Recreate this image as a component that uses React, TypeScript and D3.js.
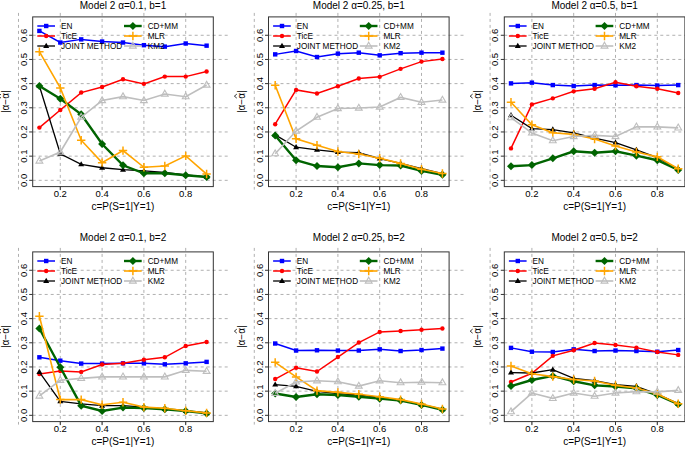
import React from "react";
import * as d3 from "d3";

// c = P(S=1|Y=1)
const cValues = [0.1, 0.2, 0.3, 0.4, 0.5, 0.6, 0.7, 0.8, 0.9];
const xTicks = [0.2, 0.4, 0.6, 0.8];
const xGrid = [0, 0.2, 0.4, 0.6, 0.8];
const yTicks = [0, 0.1, 0.2, 0.3, 0.4, 0.5, 0.6];
const methods = ["EN", "TicE", "JOINT METHOD", "CD+MM", "MLR", "KM2"];

// alpha = 0.1, b = 1
const en_a010_b1 = [0.618, 0.57, 0.583, 0.574, 0.57, 0.559, 0.553, 0.566, 0.557];
const tice_a010_b1 = [0.218, 0.291, 0.363, 0.386, 0.418, 0.399, 0.429, 0.429, 0.45];
const joint_a010_b1 = [0.39, 0.11, 0.066, 0.052, 0.044, 0.039, 0.033, 0.022, 0.014];
const cdmm_a010_b1 = [0.39, 0.337, 0.273, 0.15, 0.062, 0.029, 0.029, 0.021, 0.014];
const mlr_a010_b1 = [0.532, 0.382, 0.166, 0.073, 0.123, 0.054, 0.059, 0.101, 0.026];
const km2_a010_b1 = [0.08, 0.117, 0.261, 0.33, 0.346, 0.33, 0.357, 0.346, 0.394];

// alpha = 0.25, b = 1
const en_a025_b1 = [0.521, 0.535, 0.51, 0.524, 0.528, 0.517, 0.526, 0.528, 0.528];
const tice_a025_b1 = [0.232, 0.374, 0.359, 0.389, 0.421, 0.428, 0.461, 0.491, 0.502];
const joint_a025_b1 = [0.188, 0.137, 0.126, 0.117, 0.114, 0.09, 0.07, 0.048, 0.028];
const cdmm_a025_b1 = [0.185, 0.083, 0.059, 0.054, 0.07, 0.063, 0.061, 0.039, 0.023];
const mlr_a025_b1 = [0.393, 0.172, 0.145, 0.119, 0.109, 0.091, 0.07, 0.046, 0.028];
const km2_a025_b1 = [0.11, 0.204, 0.261, 0.297, 0.299, 0.303, 0.343, 0.323, 0.332];

// alpha = 0.5, b = 1
const en_a050_b1 = [0.401, 0.404, 0.394, 0.39, 0.394, 0.393, 0.394, 0.392, 0.394];
const tice_a050_b1 = [0.132, 0.314, 0.339, 0.368, 0.379, 0.406, 0.389, 0.379, 0.361];
const joint_a050_b1 = [0.269, 0.214, 0.21, 0.196, 0.175, 0.156, 0.126, 0.094, 0.047];
const cdmm_a050_b1 = [0.058, 0.063, 0.091, 0.12, 0.114, 0.12, 0.102, 0.083, 0.043];
const mlr_a050_b1 = [0.323, 0.23, 0.197, 0.19, 0.171, 0.142, 0.117, 0.097, 0.048];
const km2_a050_b1 = [0.259, 0.196, 0.164, 0.181, 0.186, 0.181, 0.221, 0.221, 0.217];

// alpha = 0.1, b = 2
const en_a010_b2 = [0.24, 0.226, 0.214, 0.214, 0.215, 0.215, 0.211, 0.215, 0.221];
const tice_a010_b2 = [0.171, 0.183, 0.179, 0.21, 0.215, 0.23, 0.24, 0.287, 0.303];
const joint_a010_b2 = [0.179, 0.058, 0.047, 0.04, 0.04, 0.034, 0.026, 0.018, 0.01];
const cdmm_a010_b2 = [0.359, 0.199, 0.04, 0.018, 0.032, 0.03, 0.025, 0.018, 0.008];
const mlr_a010_b2 = [0.41, 0.065, 0.065, 0.044, 0.054, 0.034, 0.029, 0.019, 0.01];
const km2_a010_b2 = [0.08, 0.145, 0.153, 0.159, 0.159, 0.159, 0.159, 0.186, 0.182];

// alpha = 0.25, b = 2
const en_a025_b2 = [0.297, 0.268, 0.269, 0.268, 0.268, 0.273, 0.266, 0.27, 0.276];
const tice_a025_b2 = [0.15, 0.197, 0.181, 0.241, 0.301, 0.345, 0.349, 0.354, 0.359];
const joint_a025_b2 = [0.127, 0.12, 0.099, 0.09, 0.084, 0.074, 0.063, 0.043, 0.025];
const cdmm_a025_b2 = [0.09, 0.076, 0.087, 0.084, 0.077, 0.069, 0.061, 0.043, 0.023];
const mlr_a025_b2 = [0.219, 0.159, 0.102, 0.095, 0.087, 0.077, 0.065, 0.047, 0.026];
const km2_a025_b2 = [0.091, 0.138, 0.143, 0.139, 0.121, 0.143, 0.135, 0.137, 0.135];

// alpha = 0.5, b = 2
const en_a050_b2 = [0.279, 0.263, 0.262, 0.273, 0.266, 0.268, 0.266, 0.263, 0.27];
const tice_a050_b2 = [0.138, 0.174, 0.246, 0.269, 0.299, 0.291, 0.28, 0.262, 0.25];
const joint_a050_b2 = [0.177, 0.175, 0.189, 0.153, 0.143, 0.127, 0.12, 0.088, 0.047];
const cdmm_a050_b2 = [0.121, 0.146, 0.163, 0.141, 0.124, 0.119, 0.112, 0.084, 0.046];
const mlr_a050_b2 = [0.204, 0.172, 0.16, 0.148, 0.142, 0.124, 0.113, 0.088, 0.048];
const km2_a050_b2 = [0.015, 0.092, 0.07, 0.092, 0.079, 0.092, 0.098, 0.097, 0.103];

const panels = [
  { title: "Model 2 α=0.1, b=1", col: 0, row: 0, series: [en_a010_b1, tice_a010_b1, joint_a010_b1, cdmm_a010_b1, mlr_a010_b1, km2_a010_b1] },
  { title: "Model 2 α=0.25, b=1", col: 1, row: 0, series: [en_a025_b1, tice_a025_b1, joint_a025_b1, cdmm_a025_b1, mlr_a025_b1, km2_a025_b1] },
  { title: "Model 2 α=0.5, b=1", col: 2, row: 0, series: [en_a050_b1, tice_a050_b1, joint_a050_b1, cdmm_a050_b1, mlr_a050_b1, km2_a050_b1] },
  { title: "Model 2 α=0.1, b=2", col: 0, row: 1, series: [en_a010_b2, tice_a010_b2, joint_a010_b2, cdmm_a010_b2, mlr_a010_b2, km2_a010_b2] },
  { title: "Model 2 α=0.25, b=2", col: 1, row: 1, series: [en_a025_b2, tice_a025_b2, joint_a025_b2, cdmm_a025_b2, mlr_a025_b2, km2_a025_b2] },
  { title: "Model 2 α=0.5, b=2", col: 2, row: 1, series: [en_a050_b2, tice_a050_b2, joint_a050_b2, cdmm_a050_b2, mlr_a050_b2, km2_a050_b2] },
];

const styles = [
  { color: "#0000ff", lw: 1.5, mark: "square" },
  { color: "#ff0000", lw: 1.5, mark: "circle" },
  { color: "#000000", lw: 1.3, mark: "triangle" },
  { color: "#006400", lw: 2.4, mark: "diamond" },
  { color: "#ffa500", lw: 1.6, mark: "plus" },
  { color: "#bebebe", lw: 1.6, mark: "opentri" },
];

const FONT = "'Liberation Sans', Arial, Helvetica, sans-serif";
const colX = [32.7, 268.5, 504.3];
const rowY = [16.9, 251.9];
const titleOff = [-7.8, -10.6];
const W = 180.6;
const H = 169.7;

function Marker({ kind, color, x, y }) {
  if (kind === "square") return <rect x={x - 2.2} y={y - 2.2} width={4.4} height={4.4} fill={color} />;
  if (kind === "circle") return <circle cx={x} cy={y} r={2.2} fill={color} />;
  if (kind === "triangle")
    return <path d={`M${x},${y - 3.2}L${x + 3},${y + 2}L${x - 3},${y + 2}Z`} fill={color} />;
  if (kind === "diamond")
    return <path d={`M${x},${y - 4}L${x + 4},${y}L${x},${y + 4}L${x - 4},${y}Z`} fill={color} />;
  if (kind === "plus")
    return <path d={`M${x - 4.2},${y}H${x + 4.2}M${x},${y - 4.2}V${y + 4.2}`} stroke={color} strokeWidth={1.5} />;
  return (
    <path d={`M${x},${y - 3.8}L${x + 3.4},${y + 2.1}L${x - 3.4},${y + 2.1}Z`} fill="none" stroke={color} strokeWidth={1.1} />
  );
}

function Panel({ p }) {
  const x0 = colX[p.col];
  const y0 = rowY[p.row];
  const x = d3.scaleLinear().domain([0.068, 0.932]).range([0, W]);
  const y = d3.scaleLinear().domain([-0.026, 0.676]).range([H, 0]);
  const line = d3
    .line<number>()
    .x((_, i) => x(cValues[i]))
    .y((d) => y(d));

  const legendRows = [9.1, 19.1, 29.1];
  return (
    <g transform={`translate(${x0},${y0})`} fontFamily={FONT}>
      {/* grid */}
      {yTicks.map((t) => (
        <line key={"h" + t} x1={0} x2={W + 16} y1={y(t)} y2={y(t)} stroke="#b0b0b0" strokeDasharray="3,3" />
      ))}
      {xGrid.map((t) => (
        <line key={"v" + t} x1={x(t)} x2={x(t)} y1={-4} y2={H + 3} stroke="#b0b0b0" strokeDasharray="3,3" />
      ))}

      {/* series */}
      {p.series.map((vals, k) => (
        <g key={k}>
          <path d={line(vals) || ""} fill="none" stroke={styles[k].color} strokeWidth={styles[k].lw} />
          {vals.map((v, i) => (
            <Marker key={i} kind={styles[k].mark} color={styles[k].color} x={x(cValues[i])} y={y(v)} />
          ))}
        </g>
      ))}

      {/* legend */}
      {methods.map((m, k) => {
        const colOff = k < 3 ? 4.6 : 91.3;
        const cy = legendRows[k % 3];
        return (
          <g key={m}>
            <line x1={colOff} x2={colOff + 17.7} y1={cy} y2={cy} stroke={styles[k].color} strokeWidth={styles[k].lw} />
            <Marker kind={styles[k].mark} color={styles[k].color} x={colOff + 8.9} y={cy} />
            <text x={colOff + 23.7} y={cy + 3} fontSize={8.2} fill="#000">
              {m}
            </text>
          </g>
        );
      })}

      {/* box */}
      <rect x={0} y={0} width={W} height={H} fill="none" stroke="#333" strokeWidth={1} />

      {/* x axis */}
      {xTicks.map((t) => (
        <g key={"xt" + t}>
          <line x1={x(t)} x2={x(t)} y1={H} y2={H + 3.5} stroke="#333" />
          <text x={x(t)} y={H + 10.5} fontSize={9.5} textAnchor="middle">
            {t.toFixed(1)}
          </text>
        </g>
      ))}
      <text x={W / 2} y={H + 23.7} fontSize={10} textAnchor="middle">
        c=P(S=1|Y=1)
      </text>

      {/* y axis */}
      {yTicks.map((t) => (
        <g key={"yt" + t}>
          <line x1={-3.5} x2={0} y1={y(t)} y2={y(t)} stroke="#333" />
          <text transform={`translate(${-6},${y(t)}) rotate(-90)`} fontSize={9.5} textAnchor="middle">
            {t.toFixed(1)}
          </text>
        </g>
      ))}
      <g transform={`translate(${-23.5},${H / 2}) rotate(-90)`}>
        <text x={0} y={0} fontSize={10} textAnchor="middle">
          |α−α|
        </text>
        <path d="M3.6,-8.2L5.6,-10.6L7.6,-8.2" fill="none" stroke="#000" strokeWidth={0.8} />
      </g>

      {/* title */}
      <text x={W / 2} y={titleOff[p.row]} fontSize={10} textAnchor="middle">
        {p.title}
      </text>
    </g>
  );
}

export default function App() {
  return (
    <svg
      width={685}
      height={449}
      style={{ position: "absolute", left: 0, top: 0, background: "#fff" }}
    >
      <rect width={685} height={449} fill="#fff" />
      {panels.map((p) => (
        <Panel key={p.title} p={p} />
      ))}
    </svg>
  );
}
